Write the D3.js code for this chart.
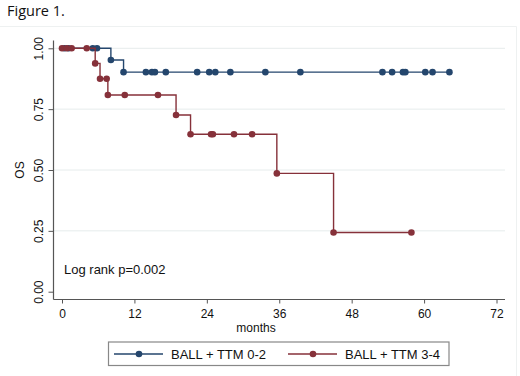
<!DOCTYPE html>
<html>
<head>
<meta charset="utf-8">
<script src="https://cdn.jsdelivr.net/npm/d3@7"></script>
<style>
  body { margin: 0; background: #fff; }
  svg { display: block; }
</style>
</head>
<body>
<div id="chart"></div>
<script>
const xTicks = [0, 12, 24, 36, 48, 60, 72]
const yTicks = [0, 0.25, 0.5, 0.75, 1]
const seriesNames = ["BALL + TTM 0-2", "BALL + TTM 3-4"]

// step drops [months, survival]
const lowSteps = [[0, 1], [8.1, 0.952], [10.2, 0.902]]
const highSteps = [[0, 1], [5.5, 0.938], [6.3, 0.875], [7.6, 0.808], [18.9, 0.726],
  [21.3, 0.647], [35.6, 0.486], [45.0, 0.243]]

// censor marks (months)
const lowCensor = [0.4, 1.1, 5.1, 5.8, 8.1, 10.2, 13.9, 14.9, 15.4, 17.2, 22.4, 24.4, 25.4,
  27.9, 33.7, 39.5, 53.1, 54.7, 56.5, 56.9, 60.2, 61.4, 64.2]
const highCensor = [0, 0.8, 1.6, 4.1, 5.5, 6.3, 7.4, 7.6, 10.4, 15.9, 18.9, 21.3, 24.7, 25.0,
  28.5, 31.5, 35.6, 45.0, 57.9]

const colors = ["#24466d", "#86313a"]

drawKM("#chart")

function drawKM(id){
  const canvas = {width: 520, height: 376}
  const svg = d3.select(id).append("svg").attr("width", canvas.width).attr("height", canvas.height)
  const sc = {
    x: d3.scaleLinear().domain([0, 72]).range([62, 496.5]),
    y: d3.scaleLinear().domain([0, 1]).range([291.7, 48.3])
  }

  svg.append("text").attr("x", 7).attr("y", 16).text("Figure 1.")
    .attr("font-family", "Open Sans").attr("font-size", 14.5).attr("fill", "#111")

  // outer region frame (faint)
  svg.append("path").attr("d", "M0,26.5H516.5V376").attr("fill", "none").attr("stroke", "#eef1f1")

  addGrid(svg, sc)
  addAxes(svg, sc)
  addCurve(svg, sc, lowSteps, lowCensor, 64.2, colors[0])
  addCurve(svg, sc, highSteps, highCensor, 57.9, colors[1])

  svg.append("text").attr("x", 64).attr("y", 274).text("Log rank p=0.002")
    .attr("font-family", "Liberation Sans").attr("font-size", 13).attr("fill", "#111")

  addLegend(svg)
}

function addGrid(svg, sc){
  svg.append("g").selectAll("line").data(yTicks.filter(d => d > 0)).join("line")
    .attr("x1", 54).attr("x2", 505)
    .attr("y1", d => sc.y(d)).attr("y2", d => sc.y(d))
    .attr("stroke", "#e6ecec").attr("stroke-width", 1)
}

function addAxes(svg, sc){
  const gx = svg.append("g").attr("transform", "translate(0,299)")
    .call(d3.axisBottom(sc.x).tickValues(xTicks).tickSize(4.5).tickPadding(3))
  gx.select(".domain").attr("d", "M53.5,0.5H505")
  styleAxis(gx)
  gx.selectAll("text").attr("dy", "0.95em")

  const gy = svg.append("g").attr("transform", "translate(53.5,0)")
    .call(d3.axisLeft(sc.y).tickValues(yTicks).tickFormat(d3.format(".2f")).tickSize(5).tickPadding(0))
  gy.select(".domain").attr("d", "M0,40.5V299.5")
  styleAxis(gy)
  gy.selectAll("text").attr("transform", "translate(-15,0) rotate(-90)")
    .attr("text-anchor", "middle").attr("x", 0).attr("dy", "0.35em")

  svg.append("text").attr("x", 256).attr("y", 331.5).attr("text-anchor", "middle").text("months")
    .attr("font-family", "Liberation Sans").attr("font-size", 12).attr("fill", "#111")
  svg.append("text").attr("transform", `translate(24,${sc.y(0.5)}) rotate(-90)`)
    .attr("text-anchor", "middle").text("OS")
    .attr("font-family", "Liberation Sans").attr("font-size", 12).attr("fill", "#111")
}

function styleAxis(g){
  g.select(".domain").attr("stroke", "#555").attr("stroke-width", 1.2)
  g.selectAll(".tick line").attr("stroke", "#555")
  g.selectAll("text").attr("font-family", "Liberation Sans").attr("font-size", 12).attr("fill", "#111")
}

function survAt(steps, t){
  let s = 1
  steps.forEach(d => { if (d[0] <= t) s = d[1] })
  return s
}

function addCurve(svg, sc, steps, censor, end, color){
  const pts = steps.concat([[end, steps[steps.length - 1][1]]])
  const line = d3.line().x(d => sc.x(d[0])).y(d => sc.y(d[1])).curve(d3.curveStepAfter)
  svg.append("path").datum(pts).attr("d", line)
    .attr("fill", "none").attr("stroke", color).attr("stroke-width", 1.4)
  svg.append("g").selectAll("circle").data(censor).join("circle")
    .attr("cx", d => sc.x(d)).attr("cy", d => sc.y(survAt(steps, d)))
    .attr("r", 3.3).attr("fill", color)
}

function addLegend(svg){
  const g = svg.append("g")
  g.append("rect").attr("x", 108.5).attr("y", 342).attr("width", 340.5).attr("height", 23.5)
    .attr("fill", "#fff").attr("stroke", "#888").attr("stroke-width", 1.2)
  const xs = [114, 288]
  seriesNames.forEach((name, i) => {
    g.append("line").attr("x1", xs[i]).attr("x2", xs[i] + 49).attr("y1", 354).attr("y2", 354)
      .attr("stroke", colors[i]).attr("stroke-width", 1.4)
    g.append("circle").attr("cx", xs[i] + 25).attr("cy", 354).attr("r", 3.3).attr("fill", colors[i])
    g.append("text").attr("x", xs[i] + 57).attr("y", 359).text(name)
      .attr("font-family", "Liberation Sans").attr("font-size", 13).attr("fill", "#111")
  })
}
</script>
</body>
</html>
